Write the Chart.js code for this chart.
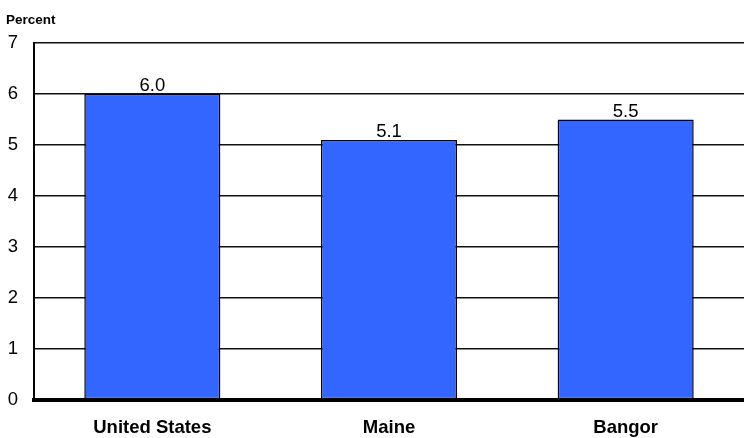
<!DOCTYPE html>
<html><head><meta charset="utf-8">
<script src="https://cdn.jsdelivr.net/npm/chart.js@4"></script>
<style>html,body{margin:0;padding:0;background:#fff}#w{width:744px;height:438px}</style>
</head><body><div id="w"><canvas id="c"></canvas></div>
<script>
const categories = ["United States", "Maine", "Bangor"];
const values = [6.0, 5.1, 5.5];
const yTicks = [0, 1, 2, 3, 4, 5, 6, 7];
const yTitle = "Percent";

const FONT = "'Liberation Sans', Arial, sans-serif";

const labelPlugin = {
  id: 'labels',
  afterDatasetsDraw(chart) {
    const ctx = chart.ctx;
    ctx.save();
    ctx.font = "18.5px " + FONT;
    ctx.fillStyle = "#000";
    ctx.textAlign = "center";
    ctx.textBaseline = "alphabetic";
    chart.getDatasetMeta(0).data.forEach((bar, i) => {
      ctx.fillText(values[i].toFixed(1), bar.x, bar.y - 3);
    });
    ctx.font = "bold 13.5px " + FONT;
    ctx.textAlign = "left";
    ctx.fillText(yTitle, 6, 24);
    ctx.restore();
  }
};

new Chart(document.getElementById('c'), {
  type: 'bar',
  data: {
    labels: categories,
    datasets: [{
      data: values,
      backgroundColor: '#3366FF',
      borderColor: '#000',
      borderWidth: 1.5,
      borderSkipped: false,
      categoryPercentage: 1,
      barPercentage: 0.575
    }]
  },
  options: {
    responsive: true,
    maintainAspectRatio: false,
    animation: false,
    events: [],
    layout: { padding: { top: 43, left: 0, right: 0, bottom: 0 } },
    plugins: { legend: { display: false }, tooltip: { enabled: false } },
    scales: {
      x: {
        grid: { display: false, drawTicks: false },
        border: { display: true, color: '#000', width: 4 },
        ticks: { color: '#000', font: { family: FONT, size: 18.5, weight: 'bold' }, padding: 16.5, maxRotation: 0 },
        afterFit(s) { s.height = 38; }
      },
      y: {
        min: 0, max: 7,
        afterBuildTicks(s) { s.ticks = yTicks.map(v => ({ value: v })); },
        grid: { color: '#111', lineWidth: 1.5, drawTicks: false },
        border: { display: true, color: '#000', width: 2 },
        ticks: { color: '#000', font: { family: FONT, size: 18.5 }, padding: 16 },
        afterFit(s) { s.width = 34; }
      }
    }
  },
  plugins: [labelPlugin]
});
</script>
</body></html>
